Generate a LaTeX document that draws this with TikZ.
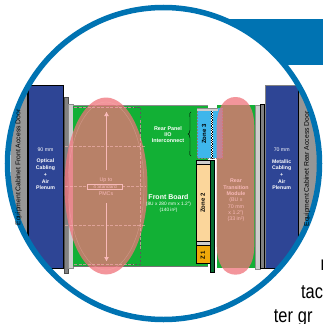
\documentclass[tikz,border=0pt]{standalone}
\usepackage{fontspec}
\setmainfont{Liberation Sans}
\definecolor{ringblue}{RGB}{0,115,178}
\definecolor{panelblue}{RGB}{46,69,149}
\definecolor{boardgreen}{RGB}{18,176,53}
\definecolor{darkgreen}{RGB}{8,110,50}
\definecolor{doorgray}{RGB}{150,150,150}
\definecolor{barlight}{RGB}{205,205,205}
\definecolor{bardark}{RGB}{130,130,130}
\definecolor{zonethree}{RGB}{62,182,235}
\definecolor{zonetwo}{RGB}{251,214,155}
\definecolor{zoneone}{RGB}{240,168,10}
\definecolor{pinkblob}{RGB}{240,114,122}
\definecolor{pinktext}{RGB}{248,185,185}
\tikzset{
  x=1pt,y=-1pt,
  paneltxt/.style={text=white,font=\bfseries\fontsize{5.2}{6}\selectfont,inner sep=0pt},
  boardtxt/.style={text=white,font=\bfseries\fontsize{5.4}{6}\selectfont,inner sep=0pt},
  smalltxt/.style={text=white,font=\fontsize{4.8}{5}\selectfont,inner sep=0pt},
  pinklbl/.style={text=pinktext,font=\fontsize{5.3}{6}\selectfont,inner sep=0pt},
  pinkbold/.style={pinklbl,font=\bfseries\fontsize{5.3}{6}\selectfont},
  zonetxt/.style={text=black,rotate=90,font=\bfseries\fontsize{6}{7}\selectfont,inner sep=0pt},
  doortxt/.style={text=black,rotate=90,font=\fontsize{6.8}{7}\selectfont,inner sep=0pt},
  bodytxt/.style={text=black,anchor=base west,inner sep=0pt,xscale=.82,font=\fontsize{20}{22}\selectfont},
  blob/.style={fill=pinkblob,fill opacity=.75,draw=none},
  blobedge/.style={draw=pinktext,opacity=.3,line width=.6pt},
  pinkdash/.style={draw=pinktext,opacity=.6,dash pattern=on 3pt off 1.5pt,line width=.5pt},
}
\begin{document}
\begin{tikzpicture}
\useasboundingbox (0,0) rectangle (323,324);
\clip (0,0) rectangle (323,324);
\fill[white] (0,0) rectangle (323,324);
% banner behind the ring
\fill[ringblue] (225,19) rectangle (323,65);
\fill[white] (163.5,163.5) circle[radius=156];
\begin{scope}
\clip (163.5,163.5) circle[radius=156];
% doors
\fill[doorgray] (11,70) rectangle (28,290);
\fill[doorgray] (298,70) rectangle (322,290);
\draw[black,line width=.9pt] (27.5,85) -- (27.5,268);
% left plenum
\draw[black,fill=panelblue,line width=.8pt] (28.5,85.7) rectangle (63.5,268);
% right plenum
\fill[panelblue] (265,85.7) rectangle (298.7,268.7);
\draw[bardark,line width=.8pt] (265,268.7) -- (265,85.7) -- (298.7,85.7);
\draw[black,line width=.8pt] (265,268.7) -- (298.7,268.7) -- (298.7,85.7);
% left bars
\draw[black!70,fill=bardark,line width=.4pt] (64.2,97) rectangle (68.3,272.7);
\draw[black!45,fill=barlight,line width=.4pt] (68.6,104.5) rectangle (73,268);
% board
\fill[boardgreen] (73,105) rectangle (208,266);
\draw[black!45,line width=.6pt] (73,105) -- (208,105);
\draw[black!55,line width=.5pt] (73,266) -- (208,266);
\draw[black!65,dash pattern=on 2.5pt off 1.5pt,line width=.5pt] (73,107.4) -- (140.5,107.4) -- (140.5,264.4) -- (73,264.4);
% RTM green
\fill[boardgreen] (217,105) rectangle (255,268);
% right bars
\draw[black!45,fill=barlight,line width=.4pt] (255,105) rectangle (260,268.7);
\draw[black,fill=bardark,line width=.6pt] (260,104) rectangle (264.5,268.7);
% zone 3
\fill[zonethree] (197,108) rectangle (222.7,158);
\fill[barlight] (197,108) rectangle (218,111);
\draw[black!45,line width=.4pt] (197,108) -- (218,108);
\draw[black!50,dash pattern=on 2pt off 1pt,line width=.5pt] (197,111) -- (197,158) -- (222.7,158) -- (222.7,108);
\fill[white] (210.5,111) rectangle (213,158);
\draw[black,line width=1.2pt,dash pattern=on 1.2pt off 1.2pt] (211.1,111) -- (211.1,158);
\draw[black,line width=1.2pt,dash pattern=on 1.2pt off 1.2pt,dash phase=1.2pt] (212.4,111) -- (212.4,158);
% zone 2 and zone 1
\draw[black,fill=zonetwo,line width=.6pt] (196,160.7) rectangle (210,241);
\draw[black,fill=barlight,line width=.6pt] (196,160.7) rectangle (210,164.5);
\draw[black,fill=barlight,line width=.6pt] (196,241) rectangle (210,245);
\draw[black,fill=zoneone,line width=.6pt] (196,245) rectangle (210,263.7);
\draw[black,fill=darkgreen,line width=.6pt] (210,160.5) rectangle (214.5,272.7);
% brace
\draw[black,line width=.4pt] (191,112) .. controls (189,112) and (190,114) .. (190,118) -- (190,130) .. controls (190,133) and (189,134) .. (188,134) .. controls (189,134) and (190,135) .. (190,138) -- (190,150) .. controls (190,154) and (189,156) .. (191,156);
% pink blobs
\fill[blob] (106,186) ellipse[x radius=41.5,y radius=88.5];
\draw[blobedge] (106,186) ellipse[x radius=38,y radius=84];
\path[blob] (216.7,127) .. controls (216.7,108) and (224,97) .. (235.5,97) .. controls (247,97) and (254.3,108) .. (254.3,127) -- (254.3,245) .. controls (254.3,264) and (247,274.7) .. (235.5,274.7) .. controls (224,274.7) and (216.7,264) .. (216.7,245) -- cycle;
\draw[pinkdash] (65,146.5) -- (146,146.5);
\draw[pinkdash] (65,225) -- (146,225);
\draw[pinkdash] (65,186) -- (87,186);
\draw[pinkdash] (122,186) -- (146,186);
\draw[pinkdash] (74,107.4) -- (134,107.4);
\draw[pinkdash] (74,264.4) -- (134,264.4);
\draw[pinkdash] (140.5,120) -- (140.5,250);
\end{scope}
% ring
\draw[ringblue,line width=5.5pt] (163.5,163.5) circle[radius=156];
% door text
\node[doortxt] (doorl) at (18.5,167.5) {Equipment Cabinet Front Access Door};
\node[doortxt] (doorr) at (307,169) {Equipment Cabinet Rear Access Door};
% left plenum text
\node[paneltxt,font=\fontsize{5.2}{6}\selectfont] (l1) at (45.5,149.5) {90 mm};
\node[paneltxt] (l2) at (45.5,161.5) {Optical};
\node[paneltxt] (l3) at (45.5,168) {Cabling};
\node[paneltxt] (l4) at (45.5,175) {+};
\node[paneltxt] (l5) at (45.5,182) {Air};
\node[paneltxt] (l6) at (45.5,188) {Plenum};
% right plenum text
\node[paneltxt,font=\fontsize{5.2}{6}\selectfont] (r1) at (281.7,149.5) {70 mm};
\node[paneltxt] (r2) at (281.7,161.5) {Metallic};
\node[paneltxt] (r3) at (281.7,168) {Cabling};
\node[paneltxt] (r4) at (281.7,175) {+};
\node[paneltxt] (r5) at (281.7,182) {Air};
\node[paneltxt] (r6) at (281.7,188) {Plenum};
% board text
\node[boardtxt] (b1) at (168,129) {Rear Panel};
\node[boardtxt] (b2) at (168,135) {I/O};
\node[boardtxt] (b3) at (168,141) {Interconnect};
\node[boardtxt,font=\bfseries\fontsize{7}{8}\selectfont] (f1) at (168.5,197) {Front Board};
\node[smalltxt] (f2) at (168.5,203.8) {(8U x 280 mm x 1.2")};
\node[smalltxt] (f3) at (168.5,210) {(140 in²)};
% zone labels
\node[zonetxt] (z3) at (204,134) {Zone 3};
\node[zonetxt] (z2) at (202.8,203) {Zone 2};
\node[zonetxt] (z1) at (202.8,255) {Z 1};
% PMC labels and arrows
\node[pinklbl] (p1) at (106,180) {Up to};
\node[pinklbl,draw=pinktext,line width=.4pt,minimum width=35pt,minimum height=5pt,font=\fontsize{4.8}{5}\selectfont] (p2) at (105,187) {4 Standard};
\node[pinklbl] (p3) at (106,194) {PMCs};
\coordinate (ptop) at (106.5,112);
\coordinate (pbot) at (106.5,261);
\coordinate (pup) at (106.5,170);
\coordinate (pdn) at (106.5,203);
\draw[pinktext,line width=.6pt] (pup) -- (ptop);
\draw[pinktext,line width=.6pt] (pdn) -- (pbot);
\fill[pinktext] (ptop) -- ++(-2.3,4) -- ++(4.6,0) -- cycle;
\fill[pinktext] (pbot) -- ++(-2.3,-4) -- ++(4.6,0) -- cycle;
% RTM label
\node[pinkbold] (t1) at (236,181) {Rear};
\node[pinkbold] (t2) at (236,187.5) {Transition};
\node[pinkbold] (t3) at (236,193.5) {Module};
\node[pinklbl] (t4) at (236,200.5) {(BU x};
\node[pinklbl] (t5) at (236,206.7) {70 mm};
\node[pinklbl] (t6) at (236,213) {x 1.2")};
\node[pinklbl] (t7) at (236,219) {(33 in²)};
% body text outside the ring
\node[bodytxt] (w1) at (320.5,270) {r};
\node[bodytxt] (w2) at (301,298) {tac};
\node[bodytxt] (w3) at (273.7,322) {ter\hspace{6pt}gr};
\end{tikzpicture}
\end{document}
